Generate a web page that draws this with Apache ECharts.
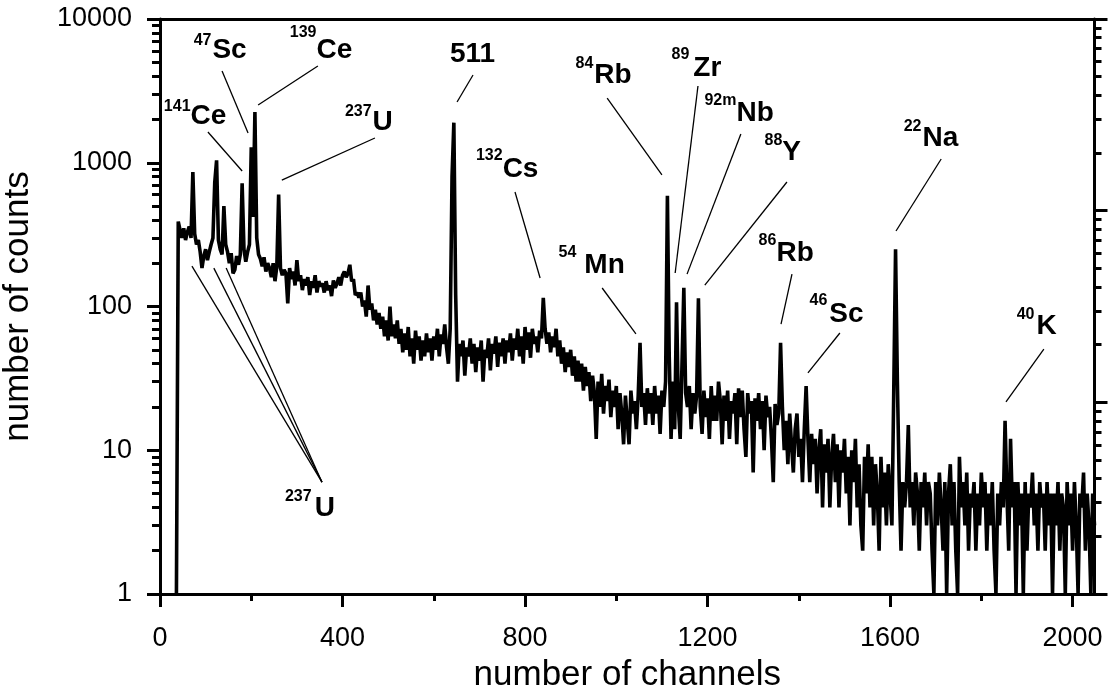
<!DOCTYPE html>
<html>
<head>
<meta charset="utf-8">
<script src="https://cdn.jsdelivr.net/npm/echarts@6/dist/echarts.min.js"></script>
<style>
html,body{margin:0;padding:0;background:#fff;}
#chart{width:1108px;height:693px;}
</style>
</head>
<body>
<div id="chart"></div>
<script>
// ---------- data ----------
const channelStart = 36;
const channelStep = 4;
const counts = [
  1, 390, 340, 300, 350, 290, 330, 360, 300, 860, 320, 270, 290, 240, 185, 225, 250, 210, 240, 270,
  300, 730, 1040, 290, 250, 230, 500, 270, 240, 200, 235, 170, 180, 225, 195, 230, 720, 250, 205, 240,
  270, 1280, 420, 2250, 300, 230, 215, 190, 220, 175, 200, 185, 160, 200, 150, 190, 600, 185, 165, 180,
  170, 105, 185, 155, 175, 140, 210, 150, 165, 130, 155, 140, 160, 120, 150, 135, 165, 125, 150, 138,
  145, 125, 150, 130, 140, 118, 152, 135, 145, 160, 140, 165, 175, 160, 170, 195, 150, 155, 120, 125,
  115, 125, 100, 110, 85, 140, 95, 105, 80, 95, 75, 90, 70, 85, 62, 80, 58, 100, 62, 75,
  60, 80, 55, 70, 48, 65, 50, 72, 45, 60, 40, 68, 50, 62, 42, 58, 45, 65, 48, 60,
  42, 62, 50, 70, 45, 64, 55, 75, 52, 40, 70, 800, 1900, 120, 30, 55, 45, 58, 33, 52,
  45, 60, 40, 55, 35, 52, 42, 58, 30, 50, 44, 60, 36, 55, 47, 62, 38, 56, 45, 60,
  40, 58, 48, 65, 42, 60, 50, 70, 45, 62, 40, 72, 50, 66, 44, 70, 55, 62, 48, 68,
  60, 115, 70, 55, 66, 48, 62, 52, 70, 45, 58, 40, 52, 35, 48, 38, 50, 33, 45, 30,
  42, 30, 40, 26, 38, 28, 35, 22, 33, 25, 12, 30, 20, 34, 18, 28, 22, 31, 17, 26,
  20, 28, 14, 25, 18, 11, 24, 16, 11, 26, 18, 22, 14, 24, 56, 20, 25, 15, 27, 18,
  25, 15, 28, 18, 24, 13, 26, 20, 30, 590, 45, 12, 30, 14, 107, 20, 12, 40, 135, 25,
  20, 28, 14, 25, 18, 24, 114, 20, 13, 26, 17, 23, 12, 28, 16, 24, 16, 30, 22, 11,
  24, 16, 26, 12, 22, 18, 25, 11, 27, 17, 26, 14, 9, 25, 18, 22, 7, 23, 16, 25,
  14, 22, 10, 24, 17, 20, 12, 6, 21, 15, 18, 56, 20, 10, 16, 8, 18, 11, 7, 14,
  18, 9, 12, 6, 14, 28, 12, 6, 13, 8, 12, 5, 10, 14, 4, 11, 7, 12, 4, 9,
  13, 6, 11, 4, 10, 7, 12, 5, 9, 3, 10, 6, 12, 4, 8, 3, 2, 9, 5, 11,
  4, 9, 3, 8, 5, 2, 9, 4, 7, 3, 8, 5, 3, 25, 250, 30, 6, 2, 6, 4,
  6, 15, 4, 6, 3, 7, 5, 2, 6, 4, 7, 3, 6, 5, 2, 1, 6, 3, 7, 4,
  2, 6, 1, 5, 8, 3, 6, 2, 1, 9, 4, 6, 3, 7, 2, 5, 4, 6, 2, 5,
  3, 7, 4, 6, 2, 5, 3, 6, 2, 1, 5, 3, 6, 4, 16, 5, 2, 12, 4, 6,
  1, 6, 3, 5, 1, 6, 2, 5, 4, 7, 3, 5, 2, 6, 4, 5, 2, 6, 3, 5,
  1, 5, 3, 6, 2, 5, 4, 1, 6, 3, 5, 2, 6, 3, 1, 5, 4, 7, 2, 5,
  3, 1, 5, 3
];

// tick values
const xMajorTicks = [0, 400, 800, 1200, 1600, 2000];
const xMinorTicks = [200, 600, 1000, 1400, 1800];
const yMajorTicks = [1, 10, 100, 1000, 10000];
const yMinorTicks = [2,3,4,5,6,7,8,9, 20,30,40,50,60,70,80,90, 200,300,400,500,600,700,800,900, 2000,3000,4000,5000,6000,7000,8000,9000];
const rightMajorTicks = [1, 10, 100, 1000];
const rightMinorTicks = [2,3,4,5,6,7,8,9, 20,30,40,50,60,70,80,90, 200,300,400,500,600,700,800,900];

// peak annotations: element, mass number, anchor [channel, counts]
const labelNames = ['Sc', 'Ce', 'Ce', 'U', '511', 'Rb', 'Zr', 'Nb', 'Y', 'Cs', 'Mn', 'Rb', 'Sc', 'Na', 'K', 'U'];
const labelSups  = ['47', '139', '141', '237', '', '84', '89', '92m', '88', '132', '54', '86', '46', '22', '40', '237'];
const labelAnchors = [
  [116, 5990], [344, 6040], [68, 2100], [467, 1905], [686, 5660], [953, 4010], [1170, 4490],
  [1264.5, 2183], [1365, 1178], [752, 890], [931, 191], [1352, 234], [1468, 88], [1672, 1463],
  [1922, 72.6], [340, 3.93]
];
// leader lines: [from, to] in [channel, counts]
const leaderLines = [
  [[136, 4347], [193, 1610]],
  [[346, 4710], [215, 2523]],
  [[105, 1637], [180, 876]],
  [[471, 1486], [267, 758]],
  [[686, 4077], [651, 2647]],
  [[980, 2821], [1100, 822]],
  [[1179, 3420], [1129, 171]],
  [[1273, 1585], [1155, 168]],
  [[1374, 735], [1194, 141]],
  [[778, 626], [833, 158]],
  [[969, 134.5], [1043, 64.4]],
  [[1385, 168], [1361, 75.5]],
  [[1490, 65.4], [1420, 34.5]],
  [[1712, 1062], [1613, 335]],
  [[1937, 50.6], [1854, 21.7]],
  [[70, 191], [355, 6.0]],
  [[118, 185], [355, 6.0]],
  [[145, 185], [355, 6.0]]
];

// ---------- layout / style ----------
const FONT = '"Liberation Sans", Arial, Helvetica, sans-serif';
const supGap = [1, 0, 0, 1, 0, 1, 4, 0, 0, 0, 8, 0, 2, 1, 2, 3];
const supDy  = [-9.5, -17, -9.5, -10.5, 0, -12, -14, -13, -11.5, -14, -13.5, -12.5, -13.5, -11.5, -11.5, -11.5];

const spectrum = counts.map((c, i) => [channelStart + i * channelStep, c]);

const mainLabelData = labelNames.map((n, i) => ({
  name: n,
  value: labelAnchors[i],
  label: labelSups[i] ? {} : { align: 'center' }
}));
const supLabelData = [];
labelSups.forEach((s, i) => {
  if (s) supLabelData.push({ name: s, value: labelAnchors[i], label: { offset: [-supGap[i], supDy[i]] } });
});

const black = '#000';
const axisLineStyle = { show: true, onZero: false, lineStyle: { color: black, width: 3 } };

function tick(len, values) {
  return { show: true, inside: false, length: len, lineStyle: { color: black, width: 3 }, customValues: values };
}

const option = {
  animation: false,
  backgroundColor: '#fff',
  grid: { left: 160, right: 13.5, top: 19, bottom: 99, containLabel: false, outerBoundsMode: 'none' },
  xAxis: [
    {
      type: 'value', min: 0, max: 2048, position: 'bottom',
      name: 'number of channels', nameLocation: 'middle', nameGap: 64,
      nameTextStyle: { fontFamily: FONT, fontSize: 35, color: black },
      axisLine: axisLineStyle,
      axisTick: tick(13, xMajorTicks),
      axisLabel: { show: true, margin: 31, fontFamily: FONT, fontSize: 27, color: black,
                   customValues: xMajorTicks, formatter: v => String(v) },
      splitLine: { show: false }
    },
    {
      type: 'value', min: 0, max: 2048, position: 'bottom',
      axisLine: { show: false, onZero: false },
      axisTick: tick(7, xMinorTicks),
      axisLabel: { show: false }, splitLine: { show: false }
    },
    {
      type: 'value', min: 0, max: 2048, position: 'top',
      axisLine: axisLineStyle, axisTick: { show: false },
      axisLabel: { show: false }, splitLine: { show: false }
    }
  ],
  yAxis: [
    {
      type: 'log', logBase: 10, min: 1, max: 10000, position: 'left',
      name: 'number of counts', nameLocation: 'middle', nameGap: 124, nameRotate: 90,
      nameTextStyle: { fontFamily: FONT, fontSize: 35, color: black },
      axisLine: axisLineStyle,
      axisTick: tick(13, yMajorTicks),
      axisLabel: { show: true, margin: 28, fontFamily: FONT, fontSize: 27, color: black,
                   customValues: yMajorTicks, formatter: v => String(v) },
      splitLine: { show: false }
    },
    {
      type: 'log', logBase: 10, min: 1, max: 10000, position: 'left',
      axisLine: { show: false, onZero: false },
      axisTick: tick(8, yMinorTicks),
      axisLabel: { show: false }, splitLine: { show: false }
    },
    {
      type: 'log', logBase: 10, min: 1, max: 1000, position: 'right',
      axisLine: axisLineStyle,
      axisTick: tick(13, rightMajorTicks),
      axisLabel: { show: false }, splitLine: { show: false }
    },
    {
      type: 'log', logBase: 10, min: 1, max: 1000, position: 'right',
      axisLine: { show: false, onZero: false },
      axisTick: tick(7, rightMinorTicks),
      axisLabel: { show: false }, splitLine: { show: false }
    }
  ],
  series: [
    {
      type: 'line', xAxisIndex: 0, yAxisIndex: 0,
      data: spectrum, showSymbol: false, symbol: 'none',
      lineStyle: { color: black, width: 3.6 }, silent: true, z: 3
    },
    {
      type: 'scatter', xAxisIndex: 0, yAxisIndex: 0,
      data: mainLabelData, symbolSize: 1, itemStyle: { color: 'rgba(0,0,0,0)', opacity: 1 }, silent: true, z: 4,
      label: { show: true, position: [0, 0], align: 'left', verticalAlign: 'middle', opacity: 1,
               fontFamily: FONT, fontWeight: 'bold', fontSize: 28, color: black, formatter: '{b}' },
      markLine: {
        silent: true, animation: false, symbol: ['none', 'none'],
        lineStyle: { color: black, width: 1.3, type: 'solid', opacity: 1 },
        label: { show: false },
        emphasis: { disabled: true },
        data: leaderLines.map(([a, b]) => [{ coord: a }, { coord: b }])
      }
    },
    {
      type: 'scatter', xAxisIndex: 0, yAxisIndex: 0,
      data: supLabelData, symbolSize: 1, itemStyle: { color: 'rgba(0,0,0,0)', opacity: 1 }, silent: true, z: 4,
      label: { show: true, position: [0, 0], align: 'right', verticalAlign: 'middle', opacity: 1,
               fontFamily: FONT, fontWeight: 'bold', fontSize: 16, color: black, formatter: '{b}' }
    }
  ]
};

const chart = echarts.init(document.getElementById('chart'), null, { renderer: 'canvas' });
chart.setOption(option);
</script>
</body>
</html>
